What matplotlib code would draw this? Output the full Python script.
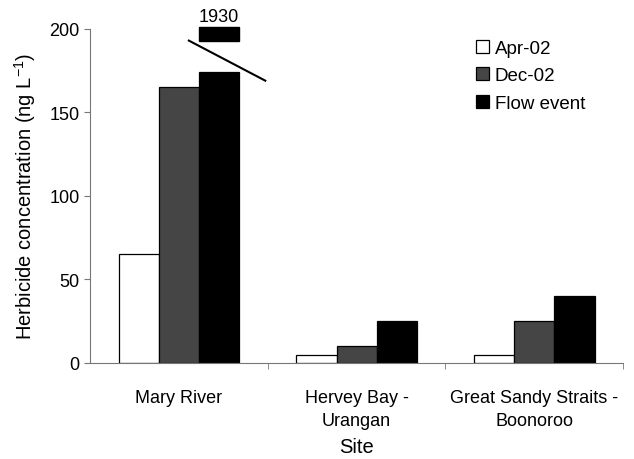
import numpy as np
import matplotlib.pyplot as plt

plt.rcParams['font.family'] = ['Liberation Sans', 'DejaVu Sans']

sites = ['Mary River', 'Hervey Bay -\nUrangan', 'Great Sandy Straits -\nBoonoroo']
series = ['Apr-02', 'Dec-02', 'Flow event']
apr02 = [65, 5, 5]
dec02 = [165, 10, 25]
flow_event = [1930, 25, 40]
colors = ['white', '#454545', 'black']

cap = 174  # where the off-scale bar is cut

fig = plt.figure(figsize=(6.34, 4.6), dpi=100)
ax = fig.add_axes([0.142, 0.209, 0.841, 0.726])

x = np.arange(len(sites))
w = 0.226
shown = [min(v, cap) for v in flow_event]
for i, (vals, c, lab) in enumerate(zip([apr02, dec02, shown], colors, series)):
    ax.bar(x + (i - 1) * w, vals, w, color=c, edgecolor='black', linewidth=0.9, label=lab)

# broken bar for the off-scale value
for xi, v in zip(x, flow_event):
    if v > cap:
        bx = xi + w
        ax.add_patch(plt.Rectangle((bx - w / 2, 193), w, 8, facecolor='black',
                                   edgecolor='black', clip_on=False))
        ax.text(bx, 202.5, str(v), ha='center', va='bottom', fontsize=13, clip_on=False)
        ax.plot([bx - 0.17, bx + 0.26], [193, 169], color='black', lw=1.5,
                clip_on=False)

ax.set_xlim(-0.5, 2.5)
ax.set_ylim(0, 200)
ax.set_yticks([0, 50, 100, 150, 200])
ax.set_xticks(x)
ax.set_xticklabels(sites, fontsize=13, linespacing=1.45)
ax.set_xticks([0.5, 1.5, 2.5], minor=True)
ax.tick_params(axis='x', which='major', length=0, pad=19)
ax.tick_params(axis='x', which='minor', length=4, color='#777777')
ax.tick_params(axis='y', labelsize=13, length=4, color='#777777')
for s in ['top', 'right']:
    ax.spines[s].set_visible(False)
for s in ['left', 'bottom']:
    ax.spines[s].set_color('#777777')

ax.set_ylabel('Herbicide concentration (ng L$^{\\mathregular{-1}}$)', fontsize=14.5,
              labelpad=8)
ax.set_xlabel('Site', fontsize=14.5, labelpad=6)

ax.legend(loc='upper right', bbox_to_anchor=(0.96, 1.018), frameon=False, fontsize=13.5,
          handlelength=0.7, handleheight=0.7, handletextpad=0.3, labelspacing=0.55)

fig.savefig('out.png', dpi=100)
